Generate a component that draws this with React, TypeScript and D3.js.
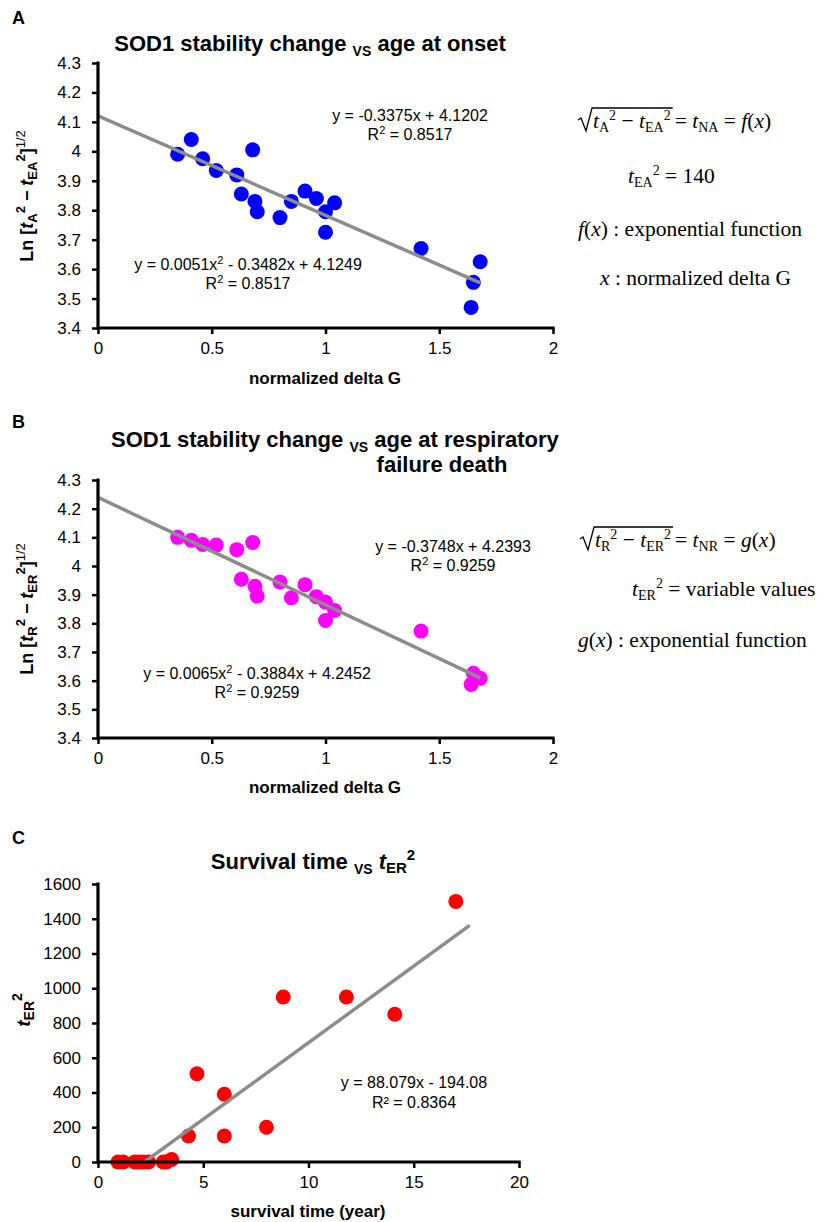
import React, { useEffect, useLayoutEffect, useRef, useState } from "react";
import * as d3 from "d3";

// normalized delta G of the SOD1 mutants (shared by panels A and B)
const deltaG = [0.35, 0.41, 0.46, 0.52, 0.61, 0.63, 0.68, 0.69, 0.70, 0.80, 0.85, 0.91, 0.96, 1.00, 1.00, 1.04, 1.42, 1.65, 1.64, 1.68];
// Ln [tA^2 - tEA^2]^1/2
const lnOnset = [3.99, 4.04, 3.975, 3.935, 3.92, 3.855, 4.005, 3.83, 3.795, 3.775, 3.83, 3.865, 3.84, 3.795, 3.725, 3.825, 3.67, 3.555, 3.47, 3.625];
// Ln [tR^2 - tER^2]^1/2
const lnResp = [4.10, 4.09, 4.075, 4.073, 4.057, 3.954, 4.082, 3.929, 3.895, 3.944, 3.889, 3.935, 3.893, 3.874, 3.81, 3.845, 3.773, 3.626, 3.587, 3.608];

// panel C
const survivalYears = [0.95, 1.2, 1.75, 1.95, 2.15, 2.4, 3.1, 3.25, 3.5, 4.3, 4.7, 6.0, 6.0, 8.0, 8.8, 11.8, 14.1, 17.0];
const tER2 = [0, 0, 0, 0, 0, 0, 0, 0, 15, 150, 508, 390, 150, 200, 950, 950, 850, 1500];

// fitted trend lines [slope, intercept]
const onsetFit = [-0.3375, 4.1202];
const respFit = [-0.3748, 4.2393];
const survivalFit = [88.079, -194.08];
const survivalFitEnd = 17.66;

const gTicks = [0, 0.5, 1, 1.5, 2];
const lnTicks = [3.4, 3.5, 3.6, 3.7, 3.8, 3.9, 4, 4.1, 4.2, 4.3];
const yearTicks = [0, 5, 10, 15, 20];
const tER2Ticks = [0, 200, 400, 600, 800, 1000, 1200, 1400, 1600];

const SANS = "Arial, 'Liberation Sans', sans-serif";
const SERIF = "'Times New Roman', 'Liberation Serif', serif";
const TREND = "#8c8c8c";
const EQ_SIZE = 21.5;

type Seg = { s: string; sh?: number; fs?: number; it?: boolean; w?: string };

function Rich(props: any) {
  const { segs, textRef, ...rest } = props;
  let cur = 0;
  return (
    <text {...rest} ref={textRef} style={{ whiteSpace: "pre" }}>
      {segs.map((g: Seg, i: number) => {
        const sh = g.sh || 0;
        const dy = sh - cur;
        cur = sh;
        return (
          <tspan key={i} dy={dy} fontSize={g.fs} fontStyle={g.it ? "italic" : undefined} fontWeight={g.w}>
            {g.s}
          </tspan>
        );
      })}
    </text>
  );
}

function Scatter(props: any) {
  const { xs, ys, xDomain, yDomain, xTicks, yTicks, xRange, yRange, color, fit, fitRange, id } = props;
  const x = d3.scaleLinear().domain(xDomain).range(xRange);
  const y = d3.scaleLinear().domain(yDomain).range(yRange);
  const xAxisRef = useRef<SVGGElement>(null);
  const yAxisRef = useRef<SVGGElement>(null);

  useEffect(() => {
    const style = (g: any) => {
      g.attr("font-size", 17).attr("font-family", SANS);
      g.select(".domain").remove();
      g.selectAll(".tick line").attr("stroke", "#000").attr("stroke-width", 2.5);
      g.selectAll(".tick text").attr("fill", "#000");
    };
    d3.select(xAxisRef.current)
      .call(d3.axisBottom(x).tickValues(xTicks).tickSize(6).tickPadding(8).tickSizeOuter(0).tickFormat((d: any) => String(d)) as any)
      .call(style);
    d3.select(yAxisRef.current)
      .call(d3.axisLeft(y).tickValues(yTicks).tickSize(6).tickPadding(11).tickSizeOuter(0).tickFormat((d: any) => String(d)) as any)
      .call(style);
  });

  const line = d3.line().x((d: any) => x(d)).y((d: any) => y(fit[0] * d + fit[1]));
  const x0 = x(xDomain[0]), x1 = x(xDomain[1]);
  const y0 = y(yDomain[0]), y1 = y(yDomain[1]);
  return (
    <g>
      <clipPath id={id}>
        <rect x={x0} y={y1} width={x1 - x0} height={y0 - y1} />
      </clipPath>
      {xs.map((v: number, i: number) => (
        <circle key={i} cx={x(v)} cy={y(ys[i])} r={7.5} fill={color} />
      ))}
      <path d={line(fitRange as any) || ""} fill="none" stroke={TREND} strokeWidth={3.5} clipPath={`url(#${id})`} />
      <g ref={xAxisRef} transform={`translate(0,${y0})`} />
      <g ref={yAxisRef} transform={`translate(${x0},0)`} />
      <path d={`M${x0},${y1}V${y0}H${x1}`} fill="none" stroke="#000" strokeWidth={3.2} strokeLinecap="square" />
    </g>
  );
}

function RadicalEq(props: any) {
  const { x, y, inner, outer } = props;
  const ref = useRef<SVGTextElement>(null);
  const [w, setW] = useState(100);
  useLayoutEffect(() => {
    if (ref.current) setW(ref.current.getComputedTextLength());
  }, []);
  const x0 = x + 15;
  const top = y - 20;
  const d = `M${x},${y - 8} L${x + 3},${y - 10} L${x + 8},${y + 3} L${x + 14},${top} H${x0 + w + 2}`;
  return (
    <g fontFamily={SERIF} fontSize={EQ_SIZE}>
      <path d={d} fill="none" stroke="#000" strokeWidth={1.3} />
      <Rich textRef={ref} x={x0} y={y} segs={inner} />
      <Rich x={x0 + w + 4} y={y} segs={outer} />
    </g>
  );
}

const sub = (s: string, extra: any = {}) => ({ s, sh: 4, fs: 14, ...extra });
const sup = (s: string, extra: any = {}) => ({ s, sh: -8, fs: 14, ...extra });

export default function App() {
  const A = { xRange: [98, 553], yRange: [328, 63] };
  const B = { xRange: [98, 553], yRange: [738, 480] };
  const C = { xRange: [98, 519], yRange: [1162, 884] };

  const lnTitle = (letter: string, e: string) => [
    { s: "Ln [" },
    { s: "t", it: true },
    { s: letter, sh: 4, fs: 13 },
    { s: "2", sh: -8, fs: 13 },
    { s: " \u2212 " },
    { s: "t", it: true },
    { s: e, sh: 4, fs: 13 },
    { s: "2", sh: -8, fs: 13 },
    { s: "]" },
    { s: "1/2", sh: -8, fs: 13, w: "normal" },
  ];

  return (
    <div style={{ position: "absolute", left: 0, top: 0 }}>
      <svg width={826} height={1222} fontFamily={SANS}>
        <rect width={826} height={1222} fill="#fff" />

        {/* Panel A */}
        <text x={12} y={24} fontSize={18} fontWeight="bold">A</text>
        <Rich x={310} y={51} textAnchor="middle" fontSize={22} fontWeight="bold"
          segs={[{ s: "SOD1 stability change " }, { s: "VS", sh: 5, fs: 14 }, { s: " age at onset" }]} />
        <Scatter id="clipA" xs={deltaG} ys={lnOnset} xDomain={[0, 2]} yDomain={[3.4, 4.3]} xTicks={gTicks} yTicks={lnTicks}
          xRange={A.xRange} yRange={A.yRange} color="#0000ff" fit={onsetFit} fitRange={[0, d3.max(deltaG)]} />
        <Rich transform="translate(33,196) rotate(-90)" x={0} y={0} textAnchor="middle" fontSize={18} fontWeight="bold" segs={lnTitle("A", "EA")} />
        <text x={325} y={384} textAnchor="middle" fontSize={17} fontWeight="bold">normalized delta G</text>
        <text x={410} y={121} textAnchor="middle" fontSize={16}>y = -0.3375x + 4.1202</text>
        <Rich x={410} y={140} textAnchor="middle" fontSize={16} segs={[{ s: "R" }, { s: "2", sh: -6, fs: 11 }, { s: " = 0.8517", sh: 0 }]} />
        <Rich x={248} y={270} textAnchor="middle" fontSize={16}
          segs={[{ s: "y = 0.0051x" }, { s: "2", sh: -6, fs: 11 }, { s: " - 0.3482x + 4.1249" }]} />
        <Rich x={248} y={289} textAnchor="middle" fontSize={16} segs={[{ s: "R" }, { s: "2", sh: -6, fs: 11 }, { s: " = 0.8517" }]} />

        <RadicalEq x={578} y={128}
          inner={[{ s: "t", it: true }, sub("A"), sup("2"), { s: " \u2212 " }, { s: "t", it: true }, sub("EA"), sup("2")]}
          outer={[{ s: "= " }, { s: "t", it: true }, sub("NA"), { s: " = " }, { s: "f", it: true }, { s: "(" }, { s: "x", it: true }, { s: ")" }]} />
        <Rich x={628} y={183} fontFamily={SERIF} fontSize={EQ_SIZE}
          segs={[{ s: "t", it: true }, sub("EA"), sup("2"), { s: " = 140" }]} />
        <Rich x={578} y={236} fontFamily={SERIF} fontSize={EQ_SIZE}
          segs={[{ s: "f", it: true }, { s: "(" }, { s: "x", it: true }, { s: ") : exponential function" }]} />
        <Rich x={600} y={285} fontFamily={SERIF} fontSize={EQ_SIZE}
          segs={[{ s: "x", it: true }, { s: " : normalized delta G" }]} />

        {/* Panel B */}
        <text x={12} y={428} fontSize={18} fontWeight="bold">B</text>
        <Rich x={111} y={447} fontSize={22} fontWeight="bold"
          segs={[{ s: "SOD1 stability change " }, { s: "VS", sh: 5, fs: 14 }, { s: " age at respiratory" }]} />
        <text x={442} y={472} textAnchor="middle" fontSize={22} fontWeight="bold">failure death</text>
        <Scatter id="clipB" xs={deltaG} ys={lnResp} xDomain={[0, 2]} yDomain={[3.4, 4.3]} xTicks={gTicks} yTicks={lnTicks}
          xRange={B.xRange} yRange={B.yRange} color="#ff00ff" fit={respFit} fitRange={[0, d3.max(deltaG)]} />
        <Rich transform="translate(33,609) rotate(-90)" x={0} y={0} textAnchor="middle" fontSize={18} fontWeight="bold" segs={lnTitle("R", "ER")} />
        <text x={325} y={793} textAnchor="middle" fontSize={17} fontWeight="bold">normalized delta G</text>
        <text x={453} y={552} textAnchor="middle" fontSize={16}>y = -0.3748x + 4.2393</text>
        <Rich x={453} y={571} textAnchor="middle" fontSize={16} segs={[{ s: "R" }, { s: "2", sh: -6, fs: 11 }, { s: " = 0.9259" }]} />
        <Rich x={257} y={679} textAnchor="middle" fontSize={16}
          segs={[{ s: "y = 0.0065x" }, { s: "2", sh: -6, fs: 11 }, { s: " - 0.3884x + 4.2452" }]} />
        <Rich x={257} y={698} textAnchor="middle" fontSize={16} segs={[{ s: "R" }, { s: "2", sh: -6, fs: 11 }, { s: " = 0.9259" }]} />

        <RadicalEq x={580} y={547}
          inner={[{ s: "t", it: true }, sub("R"), sup("2"), { s: " \u2212 " }, { s: "t", it: true }, sub("ER"), sup("2")]}
          outer={[{ s: "= " }, { s: "t", it: true }, sub("NR"), { s: " = " }, { s: "g", it: true }, { s: "(" }, { s: "x", it: true }, { s: ")" }]} />
        <Rich x={632} y={596} fontFamily={SERIF} fontSize={EQ_SIZE}
          segs={[{ s: "t", it: true }, sub("ER"), sup("2"), { s: " = variable values" }]} />
        <Rich x={578} y={647} fontFamily={SERIF} fontSize={EQ_SIZE}
          segs={[{ s: "g", it: true }, { s: "(" }, { s: "x", it: true }, { s: ") : exponential function" }]} />

        {/* Panel C */}
        <text x={12} y={844} fontSize={18} fontWeight="bold">C</text>
        <Rich x={313} y={869} textAnchor="middle" fontSize={22} fontWeight="bold"
          segs={[{ s: "Survival time " }, { s: "VS", sh: 5, fs: 14 }, { s: " ", sh: 0 }, { s: "t", it: true }, sub("ER", { fs: 15 }), sup("2", { fs: 15, sh: -9 })]} />
        <Scatter id="clipC" xs={survivalYears} ys={tER2} xDomain={[0, 20]} yDomain={[0, 1600]} xTicks={yearTicks} yTicks={tER2Ticks}
          xRange={C.xRange} yRange={C.yRange} color="#ff0000" fit={survivalFit} fitRange={[d3.min(survivalYears), survivalFitEnd]} />
        <Rich transform="translate(30,1010) rotate(-90)" x={0} y={0} textAnchor="middle" fontSize={19} fontWeight="bold"
          segs={[{ s: "t", it: true }, sub("ER", { fs: 14 }), sup("2", { fs: 14 })]} />
        <text x={308} y={1217} textAnchor="middle" fontSize={17} fontWeight="bold">survival time (year)</text>
        <text x={414} y={1088} textAnchor="middle" fontSize={16}>y = 88.079x - 194.08</text>
        <text x={414} y={1108} textAnchor="middle" fontSize={16}>R² = 0.8364</text>
      </svg>
    </div>
  );
}
